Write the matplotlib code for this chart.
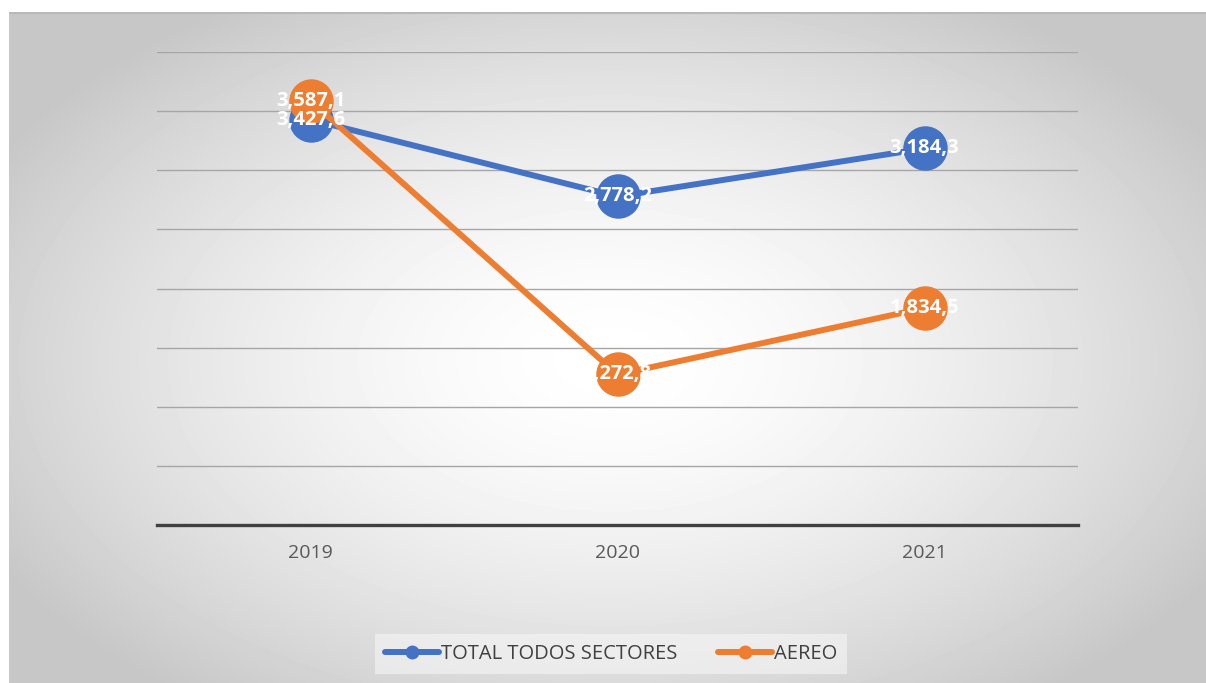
import matplotlib

matplotlib.use("Agg")
import matplotlib.pyplot as plt
import numpy as np
from matplotlib.lines import Line2D

plt.rcParams.update({"font.family": ["Open Sans", "DejaVu Sans"]})

years = ["2019", "2020", "2021"]
total = [3427.6, 2778.2, 3184.3]
aereo = [3587.1, 1272.8, 1834.5]
series_names = ["TOTAL TODOS SECTORES", "AEREO"]

BLUE = "#4472c4"
ORANGE = "#ed7d31"

W, H = 1206, 683
fig = plt.figure(figsize=(W / 100, H / 100), dpi=100)

# radial gradient chart background
bg = fig.add_axes([9 / W, 0, 1 - 9 / W, 1 - 12 / H])
yy, xx = np.mgrid[12:H, 9:W]
d = np.sqrt(((xx - 610) / 700.0) ** 2 + ((yy - 360) / 420.0) ** 2)
shade = 1.0 - 0.22 * np.clip(d, 0, 1) ** 1.6
bg.imshow(shade, cmap="gray", vmin=0, vmax=1, aspect="auto", interpolation="bilinear")
bg.axhline(0, color="#b8b8b8", lw=1.5)
bg.set_axis_off()

ax = fig.add_axes([157 / W, 1 - 525 / H, 921 / W, 473 / H])
ax.set_facecolor("none")
x = np.arange(len(years))

ax.plot(x, total, color=BLUE, lw=4.3, marker="o", ms=31, zorder=3)
ax.plot(x, aereo, color=ORANGE, lw=4.3, marker="o", ms=31, zorder=4)


def fmt(v):
    return f"{v:,.1f}".replace(".", ",")


for xi, v in zip(x, total):
    ax.text(xi, v, fmt(v), color="white", fontsize=14.5, fontweight="bold",
            ha="center", va="center", zorder=6)
for xi, v in zip(x, aereo):
    ax.text(xi, v, fmt(v), color="white", fontsize=14.5, fontweight="bold",
            ha="center", va="center", zorder=6)

ax.set_xlim(-0.5, 2.5)
ax.set_ylim(0, 4000)
ax.set_yticks(np.arange(0, 4001, 500))
ax.yaxis.grid(True, color="#a6a6a6", lw=1)
ax.set_axisbelow(True)
ax.tick_params(axis="y", left=False, labelleft=False)
ax.set_xticks(x)
ax.set_xticklabels(years, fontsize=14, color="#595959")
ax.tick_params(axis="x", length=0, pad=14)
for side in ["top", "right", "left"]:
    ax.spines[side].set_visible(False)
ax.spines["bottom"].set_color("#404040")
ax.spines["bottom"].set_linewidth(2.4)

handles = [
    Line2D([], [], color=BLUE, lw=4.3, marker="o", ms=9, solid_capstyle="round"),
    Line2D([], [], color=ORANGE, lw=4.3, marker="o", ms=9, solid_capstyle="round"),
]
leg = fig.legend(handles, series_names, loc="center", bbox_to_anchor=(611 / W, 1 - 654 / H),
                 ncol=2, frameon=True, fontsize=14.5, handlelength=2.7, handletextpad=0.1,
                 columnspacing=2.0, fancybox=False, borderpad=0.5)
leg.get_frame().set_facecolor("#f6f6f6")
leg.get_frame().set_alpha(0.6)
leg.get_frame().set_edgecolor("none")
for t in leg.get_texts():
    t.set_color("#404040")

fig.savefig("out.png", dpi=100)
plt.close(fig)
